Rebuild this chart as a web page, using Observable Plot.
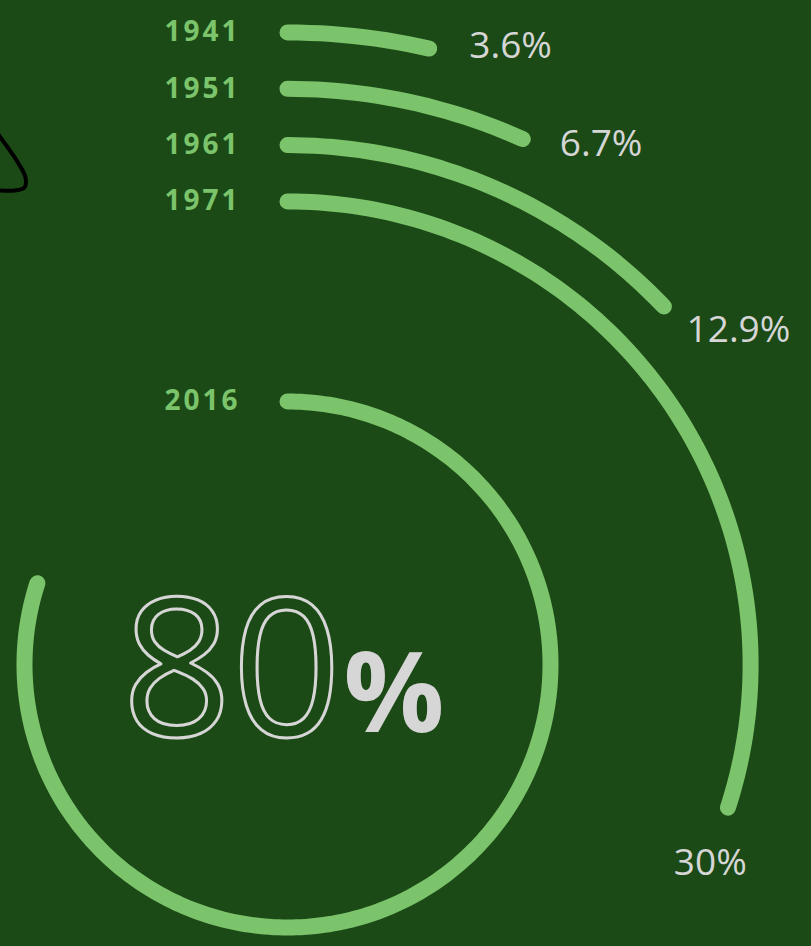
<!DOCTYPE html>
<html>
<head>
<meta charset="utf-8">
<script src="https://cdn.jsdelivr.net/npm/d3@7"></script>
<script src="https://cdn.jsdelivr.net/npm/@observablehq/plot@0.6"></script>
<style>
  html, body { margin: 0; padding: 0; background: #1c4a16; }
  #chart svg { display: block; }
</style>
</head>
<body>
<div id="chart"></div>
<script>
// ---- data ----
const years = ["1941", "1951", "1961", "1971", "2016"];
const shares = [3.6, 6.7, 12.9, 30, 80];           // % of total
const shareLabels = ["3.6%", "6.7%", "12.9%", "30%", "80%"];
// decorative hand-drawn stroke at top-left (screen px)
const decoX = [-3, 8, 18, 25, 24, 14, 0];
const decoY = [133, 148, 163, 177, 187, 190, 190];

// ---- layout ----
const W = 811, H = 946;
const CX = 287, CY = 664;            // ring centre in px
const OUTER = 632, STEP = 56.3, INNER = 263;
const green = "#7bc46b", grey = "#d6d6d6";

const rows = years.map((y, i) => ({
  year: y,
  value: shares[i],
  label: shareLabels[i],
  r: i < years.length - 1 ? OUTER - STEP * i : INNER,
  last: i === years.length - 1
}));

const rad = d => d * Math.PI / 180;
const arcPts = [];
rows.forEach(d => {
  const end = d.value * 3.6;
  const n = Math.ceil(end);
  for (let k = 0; k <= n; k++) {
    const a = rad(Math.min(k, end));
    arcPts.push({year: d.year, x: d.r * Math.sin(a), y: d.r * Math.cos(a)});
  }
});

const pctLabels = rows.filter(d => !d.last).map(d => {
  const a = rad(d.value * 3.6 + 6.8);
  const rr = d.r + 22 + 28 * Math.sin(2 * a) * Math.sin(a);
  return {text: d.label, x: rr * Math.sin(a), y: rr * Math.cos(a)};
});

const center = rows[rows.length - 1];
const deco = decoX.map((x, i) => ({x: x - CX, y: CY - decoY[i]}));

const chart = Plot.plot({
  width: W,
  height: H,
  margin: 0,
  style: {background: "#1c4a16", fontFamily: "'Open Sans', sans-serif", overflow: "visible"},
  x: {domain: [-CX, W - CX], range: [0, W], axis: null},
  y: {domain: [CY - H, CY], range: [H, 0], axis: null},
  marks: [
    Plot.line(deco, {x: "x", y: "y", stroke: "#000", strokeWidth: 4, curve: "catmull-rom"}),
    Plot.line(arcPts, {x: "x", y: "y", z: "year", stroke: green, strokeWidth: 16,
      strokeLinecap: "round", strokeLinejoin: "round"}),
    Plot.text(rows, {x: () => 0, y: "r", text: "year", dx: -47, textAnchor: "end",
      lineAnchor: "middle", fill: green, fontSize: 28, fontWeight: "bold"}),
    Plot.text(pctLabels, {x: "x", y: "y", text: "text", dy: 3, fill: grey, fontSize: 37,
      textAnchor: "middle", lineAnchor: "middle"}),
    Plot.text([center], {x: () => 54, y: () => -67, dy: 4, text: d => String(d.value),
      textAnchor: "end", lineAnchor: "bottom", fill: "none", stroke: grey, strokeWidth: 3,
      fontSize: 192, fontWeight: 500}),
    Plot.text([center], {x: () => 56, y: () => -67, text: () => "%",
      textAnchor: "start", lineAnchor: "bottom", fill: grey, fontSize: 112, fontWeight: "bold"})
  ]
});

// letter spacing for year labels
d3.select(chart).selectAll('g[aria-label="text"]').filter((_, i) => i === 0)
  .selectAll("text").attr("letter-spacing", "3px");

document.getElementById("chart").appendChild(chart);
</script>
</body>
</html>
